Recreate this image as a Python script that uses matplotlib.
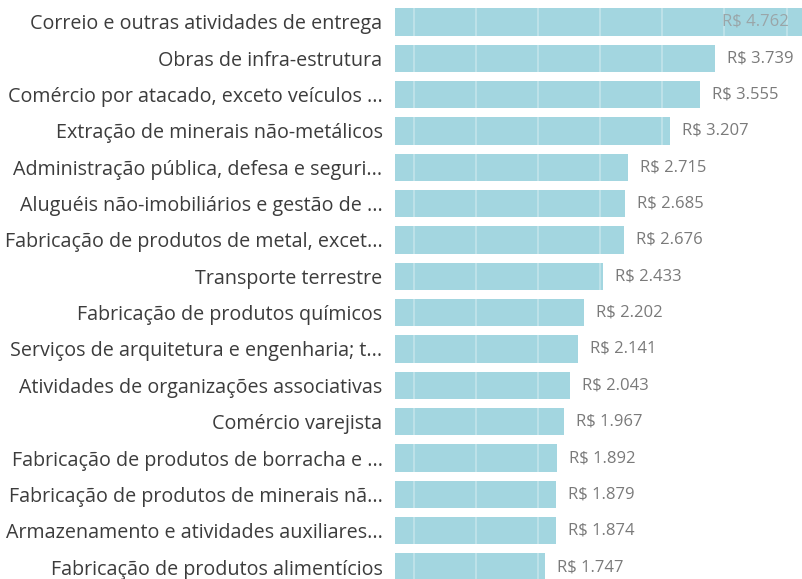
import numpy as np
import matplotlib
matplotlib.use("Agg")
import matplotlib.pyplot as plt

plt.rcParams['font.family'] = ['Open Sans', 'DejaVu Sans']

# categories and values (R$)
categories = [
    "Correio e outras atividades de entrega",
    "Obras de infra-estrutura",
    "Comércio por atacado, exceto veículos ...",
    "Extração de minerais não-metálicos",
    "Administração pública, defesa e seguri...",
    "Aluguéis não-imobiliários e gestão de ...",
    "Fabricação de produtos de metal, excet...",
    "Transporte terrestre",
    "Fabricação de produtos químicos",
    "Serviços de arquitetura e engenharia; t...",
    "Atividades de organizações associativas",
    "Comércio varejista",
    "Fabricação de produtos de borracha e ...",
    "Fabricação de produtos de minerais nã...",
    "Armazenamento e atividades auxiliares...",
    "Fabricação de produtos alimentícios",
]
values = [4762, 3739, 3555, 3207, 2715, 2685, 2676, 2433,
          2202, 2141, 2043, 1967, 1892, 1879, 1874, 1747]

def brl(v):
    return "R$ " + f"{v:,}".replace(",", ".")

fig = plt.figure(figsize=(8.03, 5.79), dpi=100)
ax = fig.add_axes([0.492, 0.0, 0.508, 1.0])

y = np.arange(len(categories))
ax.barh(y, values, height=0.75, color="#a3d6e0", zorder=1)

# faint white lines across bars (scan look)
for gx in np.arange(220, max(values), 725):
    ax.axvline(gx, color="white", lw=1.2, alpha=0.35, zorder=2)

ax.set_xlim(0, 4762)
ax.set_ylim(15.33, -0.605)
ax.set_yticks(y)
ax.set_yticklabels(categories, fontsize=14.2, color="#3c3c3c")
ax.tick_params(axis="y", length=0, pad=9)
ax.set_xticks([])
for s in ax.spines.values():
    s.set_visible(False)

for i, v in enumerate(values):
    if v > 4500:
        ax.text(v - 170, i, brl(v), ha="right", va="center", fontsize=12,
                color="#9aa5a8", zorder=3)
    else:
        ax.text(v + 140, i, brl(v), ha="left", va="center", fontsize=12,
                color="#7a7a7a", zorder=3)

fig.savefig("out.png", dpi=100, facecolor="white")
